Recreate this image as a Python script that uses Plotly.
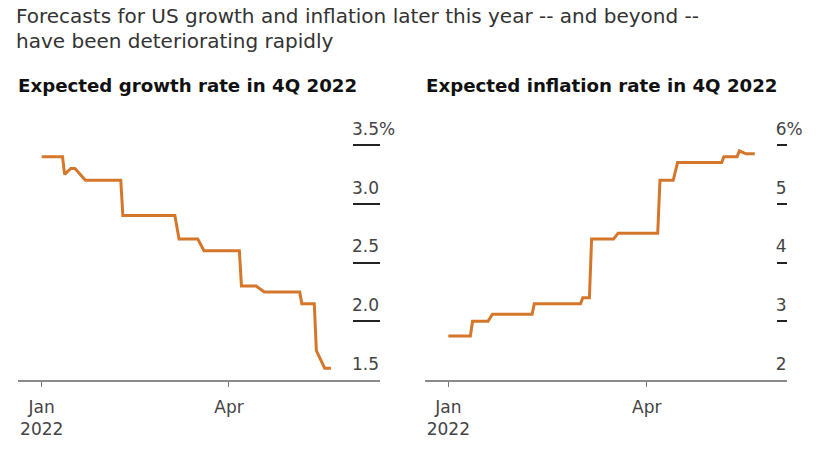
import plotly.graph_objects as go

# ---- data ----
growth_dates = ["2022-01-01", "2022-01-11", "2022-01-12", "2022-01-15", "2022-01-17",
                "2022-01-22", "2022-02-08", "2022-02-09", "2022-03-06", "2022-03-08",
                "2022-03-17", "2022-03-20", "2022-04-06", "2022-04-07", "2022-04-14",
                "2022-04-18", "2022-05-05", "2022-05-06", "2022-05-12", "2022-05-13",
                "2022-05-17", "2022-05-20"]
growth_values = [3.40, 3.40, 3.25, 3.30, 3.30,
                 3.20, 3.20, 2.90, 2.90, 2.70,
                 2.70, 2.60, 2.60, 2.30, 2.30,
                 2.25, 2.25, 2.15, 2.15, 1.75,
                 1.60, 1.60]

inflation_dates = ["2022-01-01", "2022-01-11", "2022-01-12", "2022-01-19", "2022-01-21",
                   "2022-02-08", "2022-02-09", "2022-03-02", "2022-03-03", "2022-03-06",
                   "2022-03-07", "2022-03-17", "2022-03-19", "2022-04-06", "2022-04-07",
                   "2022-04-13", "2022-04-15", "2022-05-05", "2022-05-06", "2022-05-12",
                   "2022-05-13", "2022-05-16", "2022-05-20"]
inflation_values = [2.75, 2.75, 3.00, 3.00, 3.12,
                    3.12, 3.30, 3.30, 3.40, 3.40,
                    4.40, 4.40, 4.50, 4.50, 5.40,
                    5.40, 5.70, 5.70, 5.80, 5.80,
                    5.90, 5.85, 5.85]

growth_ticks = [1.5, 2.0, 2.5, 3.0, 3.5]
growth_ticktext = ["1.5", "2.0", "2.5", "3.0", "3.5%"]
inflation_ticks = [2, 3, 4, 5, 6]
inflation_ticktext = ["2", "3", "4", "5", "6%"]
x_tickvals = ["2022-01-01", "2022-04-01"]
x_ticktext = ["Jan<br>2022", "Apr"]

title_line1 = "Forecasts for US growth and inflation later this year -- and beyond --"
title_line2 = "have been deteriorating rapidly"
sub_left = "Expected growth rate in 4Q 2022"
sub_right = "Expected inflation rate in 4Q 2022"

# ---- style / layout helpers ----
W, H = 831, 468
LINE = "#D5772B"
FONT = "DejaVu Sans"
TXT = "#333333"
TICKTXT = "#444444"


def px(x):
    return x / W


def py(y):
    return 1 - y / H


fig = go.Figure()
fig.add_trace(go.Scatter(x=growth_dates, y=growth_values, mode="lines",
                         line=dict(color=LINE, width=3), xaxis="x", yaxis="y",
                         showlegend=False, hoverinfo="x+y"))
fig.add_trace(go.Scatter(x=inflation_dates, y=inflation_values, mode="lines",
                         line=dict(color=LINE, width=3), xaxis="x2", yaxis="y2",
                         showlegend=False, hoverinfo="x+y"))

y_bot_px, y_top_px, y_tick_top_px = 380.0, 125.0, 145.0
ydom = [py(y_bot_px), py(y_top_px)]

xcommon = dict(showgrid=False, zeroline=False, showline=True, linecolor="#8a8a8a",
               linewidth=1.5, ticks="outside", ticklen=5, tickwidth=1.2, tickcolor="#777777",
               tickvals=x_tickvals, ticktext=x_ticktext, ticklabelstandoff=6,
               tickfont=dict(family=FONT, size=17, color=TICKTXT), fixedrange=True)
ycommon = dict(showgrid=False, zeroline=False, showline=False, side="right",
               ticks="inside", tickwidth=1.5, tickcolor="#222222",
               ticklabelshift=-16, tickfont=dict(family=FONT, size=17, color=TICKTXT),
               automargin=False, domain=ydom, fixedrange=True)

px_per_unit_l = (y_bot_px - y_tick_top_px) / 2.0  # 1.5 -> 3.5
px_per_unit_r = (y_bot_px - y_tick_top_px) / 4.0  # 2 -> 6
top_l = 1.5 + (y_bot_px - y_top_px) / px_per_unit_l
top_r = 2.0 + (y_bot_px - y_top_px) / px_per_unit_r

fig.update_layout(
    width=W, height=H,
    margin=dict(l=0, r=0, t=0, b=0),
    paper_bgcolor="white", plot_bgcolor="white",
    xaxis=dict(xcommon, domain=[px(18.3), px(380.0)], anchor="y",
               range=["2021-12-20 18:00", "2022-06-12 14:00"]),
    xaxis2=dict(xcommon, domain=[px(425.0), px(786.7)], anchor="y2",
                range=["2021-12-21 10:00", "2022-06-03 12:00"]),
    yaxis=dict(ycommon, anchor="x", range=[1.5, top_l], tickvals=growth_ticks,
               ticktext=growth_ticktext, ticklen=27, ticklabelstandoff=-29),
    yaxis2=dict(ycommon, anchor="x2", range=[2.0, top_r], tickvals=inflation_ticks,
                ticktext=inflation_ticktext, ticklen=10, ticklabelstandoff=-12),
    annotations=[
        dict(text=title_line1, x=px(14), y=py(16), xref="paper", yref="paper",
             xanchor="left", yanchor="middle", showarrow=False,
             font=dict(family=FONT, size=20, color=TXT)),
        dict(text=title_line2, x=px(14), y=py(41), xref="paper", yref="paper",
             xanchor="left", yanchor="middle", showarrow=False,
             font=dict(family=FONT, size=20, color=TXT)),
        dict(text="<b>" + sub_left + "</b>", x=px(16), y=py(85), xref="paper", yref="paper",
             xanchor="left", yanchor="middle", showarrow=False,
             font=dict(family=FONT, size=18.2, color="#111111")),
        dict(text="<b>" + sub_right + "</b>", x=px(424), y=py(85), xref="paper", yref="paper",
             xanchor="left", yanchor="middle", showarrow=False,
             font=dict(family=FONT, size=18.2, color="#111111")),
    ],
)

# remove the default page margin so the 831x468 figure fills the window exactly
fig.write_html("out.html", config={"displayModeBar": False},
               post_script="document.body.style.margin='0';")
